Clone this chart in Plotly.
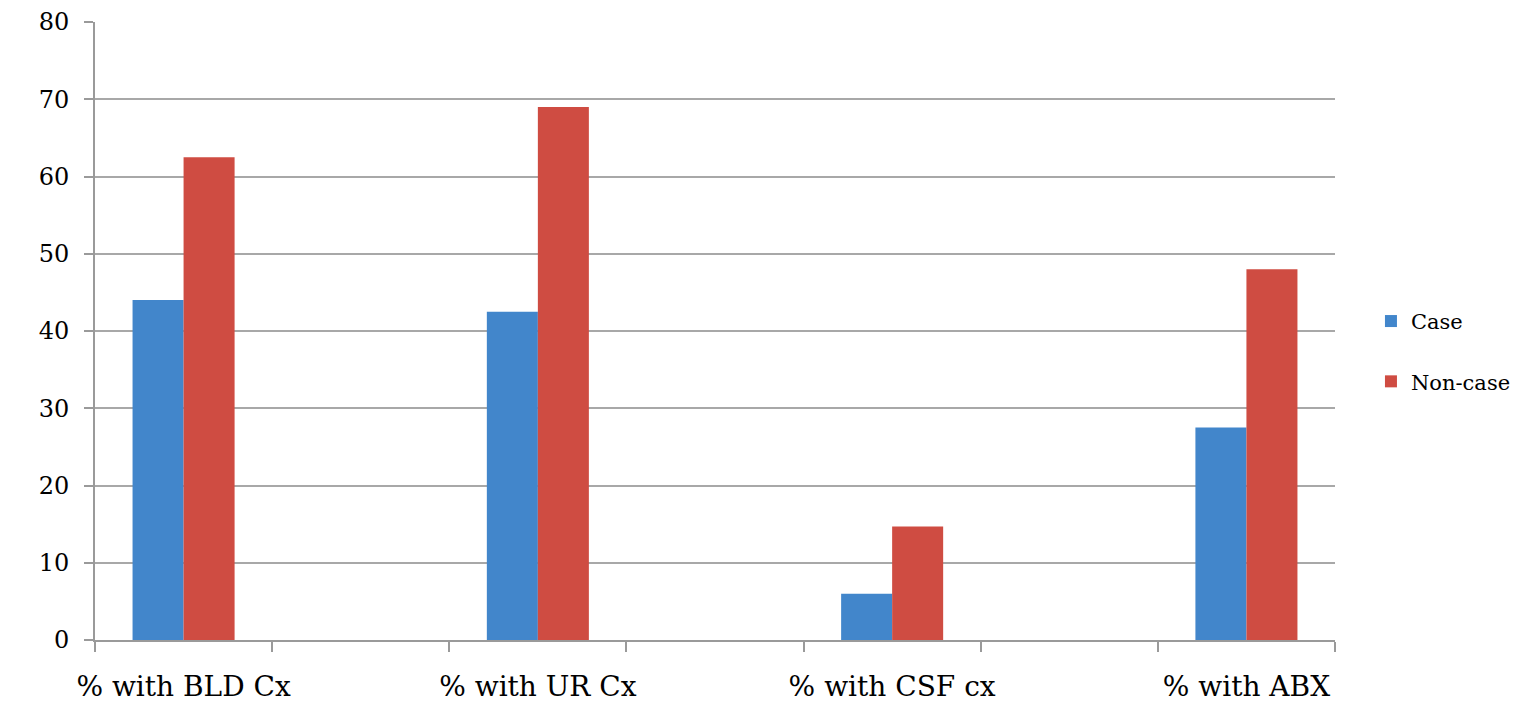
import plotly.graph_objects as go

categories = ["% with BLD Cx", "% with UR Cx", "% with CSF cx", "% with ABX"]
cat_pos = [0, 2, 4, 6]          # every other slot; empty slots between groups
boundaries = [-0.5, 0.5, 1.5, 2.5, 3.5, 4.5, 5.5, 6.5]
case_vals = [44.0, 42.5, 6.0, 27.5]
noncase_vals = [62.5, 69.0, 14.7, 48.0]

bar_w = 0.288
font_family = "DejaVu Serif"

fig = go.Figure()
fig.add_trace(go.Bar(
    x=cat_pos, y=case_vals, name="Case", width=bar_w, offset=-bar_w,
    marker=dict(color="#4286cb", line=dict(width=0)), legendgroup="a",
))
fig.add_trace(go.Bar(
    x=cat_pos, y=noncase_vals, name="Non-case", width=bar_w, offset=0,
    marker=dict(color="#cf4c42", line=dict(width=0)), legendgroup="b",
))

fig.update_layout(
    width=1521, height=706,
    margin=dict(l=87, r=194, t=14, b=74, autoexpand=False),
    paper_bgcolor="white", plot_bgcolor="white",
    barmode="overlay",
    font=dict(family=font_family, color="#000000"),
    legend=dict(
        x=1.029, xanchor="left", y=0.467, yanchor="middle",
        font=dict(size=21, family=font_family),
        tracegroupgap=30, itemclick=False,
    ),
    xaxis=dict(
        range=[-0.5, 6.5], automargin=False,
        tickvals=cat_pos, ticktext=categories, ticks="",
        tickfont=dict(size=28, family=font_family),
        ticklabelstandoff=20,
        showgrid=False, zeroline=False,
        showline=True, linecolor="#9a9a9a", linewidth=2,
        minor=dict(tickvals=boundaries, ticks="outside", ticklen=10,
                   tickcolor="#9a9a9a", tickwidth=2, showgrid=False),
    ),
    yaxis=dict(
        range=[0, 80], dtick=10, tick0=0, automargin=False,
        ticks="outside", ticklen=9, tickcolor="#9a9a9a", tickwidth=2,
        tickfont=dict(size=24, family=font_family),
        ticklabelstandoff=10,
        showgrid=True, gridcolor="#a8a8a8", gridwidth=1.5,
        zeroline=False,
        showline=True, linecolor="#9a9a9a", linewidth=2,
    ),
)

fig.write_html("out.html")
